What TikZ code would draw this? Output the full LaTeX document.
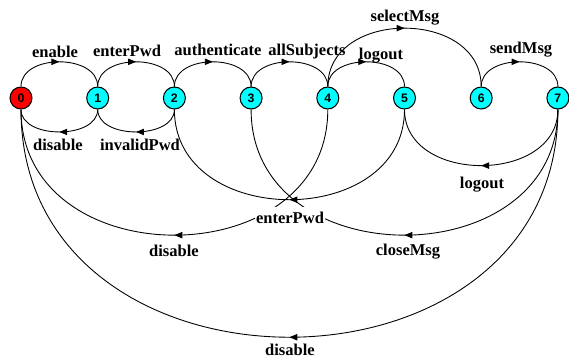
\documentclass[tikz,border=0pt]{standalone}
\usepackage{fontspec}
\setmainfont{Liberation Serif}
\newfontfamily\numfont{Liberation Sans}
\usetikzlibrary{arrows.meta,decorations.markings}

\definecolor{stateaqua}{RGB}{0,255,255}
\definecolor{startred}{RGB}{255,0,0}

\tikzset{
  state/.style={circle,draw,line width=.6pt,fill=stateaqua,minimum size=.44cm,inner sep=0pt,
    font=\numfont\bfseries\fontsize{7}{8}\selectfont},
  lbl/.style={anchor=base,inner sep=.5pt,font=\bfseries\fontsize{9.4}{11}\selectfont},
  trans/.style={line width=.5pt,postaction={decorate},
    decoration={markings,mark=at position .5 with {\arrow{Triangle[length=4.5pt,width=3.6pt]}}}}
}

\begin{document}
\begin{tikzpicture}[x=.02cm,y=.02cm]
\useasboundingbox (0,0) rectangle (569,356);

\node[state,fill=startred] (s0) at (21,258) {0};
\foreach \i in {1,...,7}
    \node[state] (s\i) at (21+76.7*\i,258) {\i};

% upper arcs
\draw[trans] (s0) to[out=90,in=90,looseness=1.1] (s1);
\draw[trans] (s1) to[out=90,in=90,looseness=1.1] (s2);
\draw[trans] (s2) to[out=90,in=90,looseness=1.1] (s3);
\draw[trans] (s3) to[out=90,in=90,looseness=1.1] (s4);
\draw[trans] (s4) to[out=90,in=90,looseness=1.1] (s5);
\draw[trans] (s4) to[out=90,in=90,looseness=1.3] (s6);
\draw[trans] (s6) to[out=90,in=90,looseness=1.1] (s7);

% lower arcs
\draw[trans] (s1) to[out=-90,in=-90,looseness=1] (s0);
\draw[trans] (s2) to[out=-90,in=-90,looseness=1] (s1);
\draw[trans] (s5) to[out=-90,in=-90,looseness=1.34] (s2);
\draw[trans] (s4) to[out=-90,in=-90,looseness=1.4] (s0);
\draw[trans] (s7) to[out=-90,in=-90,looseness=1.4] (s3);
\draw[trans] (s7) to[out=-90,in=-90,looseness=1.25] (s5);
\draw[trans] (s7) to[out=-90,in=-90,looseness=1.45] (s0);

\node[lbl] (lEnable) at (55,299) {enable};
\node[lbl] (lEnterPwd) at (127,300) {enterPwd};
\node[lbl] (lAuth) at (218,301) {authenticate};
\node[lbl] (lAllSubj) at (307,301) {allSubjects};
\node[lbl] (lLogout) at (381,297) {logout};
\node[lbl] (lSelect) at (405,335) {selectMsg};
\node[lbl] (lSend) at (521,303) {sendMsg};
\node[lbl] (lDisable) at (58,206) {disable};
\node[lbl] (lInvalid) at (140,206) {invalidPwd};
\node[lbl,fill=white,inner ysep=2.5pt] (lEnterPwdB) at (290,133) {enterPwd};
\node[lbl] (lDisableB) at (174,100) {disable};
\node[lbl] (lCloseMsg) at (408,101) {closeMsg};
\node[lbl] (lLogoutB) at (482,168) {logout};
\node[lbl] (lDisableC) at (290,1) {disable};
\end{tikzpicture}
\end{document}
